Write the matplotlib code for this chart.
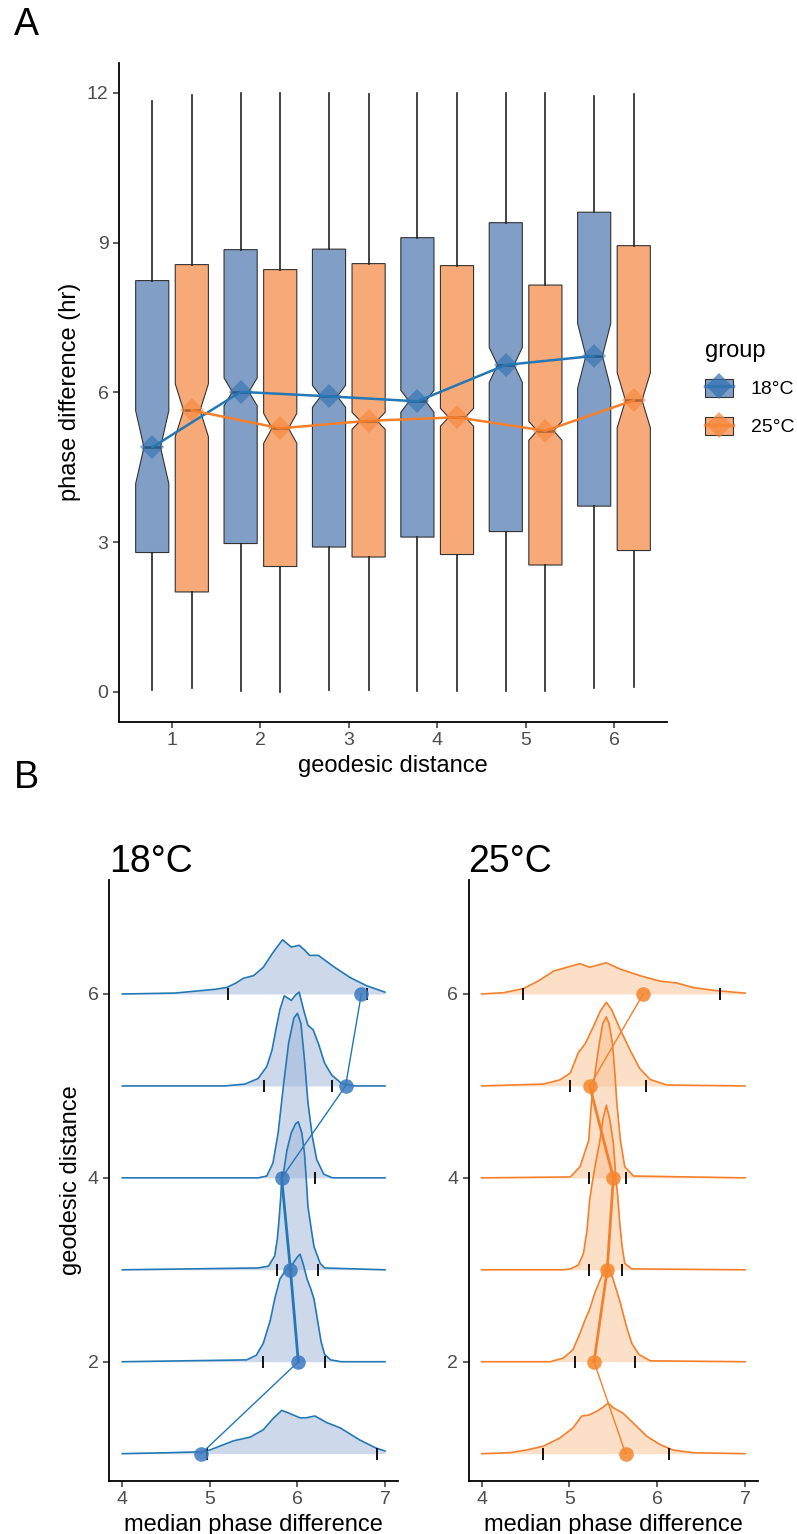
import matplotlib
matplotlib.use('Agg')
import matplotlib.pyplot as plt
from matplotlib.patches import Patch
from matplotlib.lines import Line2D
from matplotlib.legend_handler import HandlerTuple

plt.rcParams['font.family'] = ['Liberation Sans', 'DejaVu Sans']

# geodesic distance levels and the two temperature groups
distances = [1, 2, 3, 4, 5, 6]
groups = ['18°C', '25°C']

# box statistics of phase difference (hr)
whislo_18 = [0.04, 0.02, 0.04, 0.02, 0.02, 0.08]
q1_18 = [2.79, 2.97, 2.90, 3.10, 3.21, 3.72]
med_18 = [4.90, 6.01, 5.92, 5.82, 6.55, 6.73]
q3_18 = [8.24, 8.86, 8.87, 9.10, 9.40, 9.61]
whishi_18 = [11.83, 12.0, 12.0, 12.0, 12.0, 11.94]
notch_18 = [0.73, 0.28, 0.22, 0.22, 0.35, 0.65]

whislo_25 = [0.08, 0.0, 0.04, 0.02, 0.02, 0.09]
q1_25 = [2.00, 2.51, 2.70, 2.75, 2.54, 2.83]
med_25 = [5.64, 5.28, 5.43, 5.50, 5.23, 5.84]
q3_25 = [8.56, 8.46, 8.58, 8.54, 8.15, 8.94]
whishi_25 = [11.96, 12.0, 11.98, 12.0, 12.0, 11.98]
notch_25 = [0.53, 0.30, 0.17, 0.18, 0.19, 0.55]

# interval of the median distribution (ticks on the ridges)
lo_18 = [4.97, 5.61, 5.77, 5.82, 5.62, 5.21]
hi_18 = [6.91, 6.32, 6.23, 6.20, 6.40, 6.79]
lo_25 = [4.70, 5.06, 5.22, 5.22, 5.01, 4.47]
hi_25 = [6.13, 5.75, 5.60, 5.64, 5.87, 6.72]

# ridge densities of the median phase difference, one list per distance
ridge_x_18 = [
    [4.0, 4.51, 4.89, 5.0, 5.27, 5.46, 5.61, 5.72, 5.82, 5.88, 6.03, 6.10, 6.20, 6.33, 6.49, 6.71, 6.90, 7.0],
    [4.0, 5.42, 5.53, 5.61, 5.69, 5.74, 5.80, 5.87, 5.95, 6.00, 6.03, 6.07, 6.11, 6.15, 6.19, 6.23, 6.27, 6.31, 6.38, 6.5, 7.0],
    [4.0, 5.55, 5.67, 5.74, 5.77, 5.79, 5.81, 5.82, 5.84, 5.88, 5.93, 5.98, 6.01, 6.05, 6.08, 6.10, 6.12, 6.16, 6.19, 6.26, 6.31, 7.0],
    [4.0, 5.55, 5.65, 5.72, 5.78, 5.84, 5.90, 5.96, 6.00, 6.04, 6.08, 6.12, 6.17, 6.22, 6.30, 6.40, 7.0],
    [4.0, 5.17, 5.40, 5.55, 5.65, 5.71, 5.76, 5.80, 5.85, 5.90, 5.93, 5.98, 6.02, 6.07, 6.12, 6.18, 6.24, 6.31, 6.39, 6.50, 6.66, 7.0],
    [4.0, 4.6, 4.89, 5.05, 5.19, 5.30, 5.38, 5.50, 5.61, 5.72, 5.83, 5.88, 5.93, 6.02, 6.08, 6.14, 6.24, 6.41, 6.60, 6.79, 7.0],
]
ridge_h_18 = [
    [0.0, 0.01, 0.02, 0.04, 0.14, 0.18, 0.26, 0.38, 0.47, 0.45, 0.39, 0.39, 0.41, 0.34, 0.28, 0.15, 0.06, 0.03],
    [0.0, 0.02, 0.07, 0.20, 0.45, 0.68, 0.90, 1.00, 1.07, 1.14, 1.17, 1.05, 0.90, 0.80, 0.68, 0.45, 0.22, 0.08, 0.02, 0.0, 0.0],
    [0.0, 0.02, 0.04, 0.15, 0.33, 0.54, 0.80, 0.98, 1.05, 1.30, 1.49, 1.59, 1.61, 1.49, 1.27, 1.0, 0.69, 0.43, 0.25, 0.07, 0.02, 0.0],
    [0.0, 0.0, 0.02, 0.16, 0.49, 1.0, 1.47, 1.74, 1.79, 1.68, 1.29, 0.82, 0.45, 0.20, 0.04, 0.0, 0.0],
    [0.0, 0.0, 0.02, 0.08, 0.21, 0.39, 0.64, 0.83, 0.98, 0.95, 0.93, 0.99, 1.02, 0.83, 0.66, 0.61, 0.46, 0.25, 0.12, 0.03, 0.0, 0.0],
    [0.0, 0.01, 0.036, 0.05, 0.07, 0.12, 0.17, 0.20, 0.29, 0.45, 0.59, 0.55, 0.51, 0.53, 0.48, 0.42, 0.42, 0.30, 0.18, 0.09, 0.02],
]
ridge_x_25 = [
    [4.0, 4.32, 4.51, 4.70, 4.89, 5.04, 5.14, 5.22, 5.31, 5.39, 5.44, 5.50, 5.61, 5.73, 5.88, 6.03, 6.18, 6.41, 7.0],
    [4.0, 4.78, 4.93, 5.04, 5.12, 5.18, 5.23, 5.29, 5.35, 5.40, 5.43, 5.47, 5.50, 5.58, 5.65, 5.71, 5.79, 5.92, 7.0],
    [4.0, 4.93, 5.01, 5.10, 5.16, 5.20, 5.23, 5.26, 5.30, 5.35, 5.38, 5.42, 5.46, 5.50, 5.53, 5.55, 5.57, 5.60, 5.63, 5.71, 7.0],
    [4.0, 5.01, 5.12, 5.22, 5.25, 5.30, 5.34, 5.38, 5.42, 5.45, 5.49, 5.52, 5.54, 5.58, 5.63, 5.73, 7.0],
    [4.0, 4.70, 4.89, 5.01, 5.10, 5.18, 5.27, 5.35, 5.42, 5.48, 5.58, 5.69, 5.80, 5.92, 6.11, 7.0],
    [4.0, 4.25, 4.48, 4.66, 4.82, 4.97, 5.12, 5.23, 5.42, 5.58, 5.80, 6.03, 6.22, 6.41, 6.64, 6.87, 7.0],
]
ridge_h_25 = [
    [0.0, 0.01, 0.04, 0.08, 0.17, 0.28, 0.41, 0.42, 0.46, 0.51, 0.55, 0.50, 0.44, 0.33, 0.19, 0.10, 0.04, 0.01, 0.0],
    [0.0, 0.0, 0.04, 0.13, 0.31, 0.46, 0.57, 0.75, 0.89, 1.0, 1.03, 0.97, 0.89, 0.64, 0.38, 0.20, 0.08, 0.01, 0.0],
    [0.0, 0.0, 0.01, 0.05, 0.18, 0.43, 0.76, 0.95, 1.17, 1.42, 1.63, 1.79, 1.63, 1.38, 0.98, 0.80, 0.54, 0.25, 0.07, 0.01, 0.0],
    [0.0, 0.01, 0.12, 0.41, 0.81, 1.2, 1.46, 1.68, 1.75, 1.68, 1.46, 1.1, 0.81, 0.41, 0.12, 0.02, 0.0],
    [0.0, 0.02, 0.065, 0.14, 0.36, 0.46, 0.64, 0.81, 0.91, 0.83, 0.61, 0.39, 0.19, 0.07, 0.01, 0.0],
    [0.0, 0.014, 0.06, 0.15, 0.25, 0.29, 0.33, 0.29, 0.34, 0.27, 0.20, 0.14, 0.12, 0.07, 0.04, 0.02, 0.01],
]

# colours
box_fill = ['#819fc6', '#f7aa78']
line_col = ['#2378b5', '#f57f2a']
diamond_col = ['#2f6fb0', '#f7863a']
ridge_fill = ['#9db5d9', '#fbc190']
dot_col = ['#3a79c0', '#f5862c']
# width of the dot-connecting segments in panel B
seg_w = [[1.0, 2.0, 2.0, 1.0, 1.0], [1.0, 2.0, 2.0, 2.0, 1.0]]

W, H = 797, 1534
fig = plt.figure(figsize=(W / 100, H / 100), dpi=100)


def style_axes(ax):
    for s in ['top', 'right']:
        ax.spines[s].set_visible(False)
    for s in ['left', 'bottom']:
        ax.spines[s].set_linewidth(1.3)
        ax.spines[s].set_color('black')
    ax.tick_params(length=4, width=1.1, color='#333333', labelcolor='#4d4d4d', labelsize=14)


# ---------- panel A: notched boxplots ----------
axA = fig.add_axes([119 / W, 1 - 721.7 / H, 548 / W, (721.7 - 63) / H])
offsets = [-0.224, 0.224]
box_data = [
    (whislo_18, q1_18, med_18, q3_18, whishi_18, notch_18),
    (whislo_25, q1_25, med_25, q3_25, whishi_25, notch_25),
]
for g, (wl, q1, md, q3, wh, nh) in enumerate(box_data):
    stats = []
    for i in range(len(distances)):
        stats.append(dict(whislo=wl[i], q1=q1[i], med=md[i], q3=q3[i], whishi=wh[i],
                          cilo=md[i] - nh[i], cihi=md[i] + nh[i], fliers=[]))
    pos = [d + offsets[g] for d in distances]
    axA.bxp(stats, positions=pos, widths=0.375, shownotches=True, patch_artist=True,
            showcaps=False, showfliers=False, manage_ticks=False,
            boxprops=dict(facecolor=box_fill[g], edgecolor='#333333', linewidth=0.8),
            whiskerprops=dict(color='#222222', linewidth=1.2),
            medianprops=dict(color='#333333', linewidth=1.8))
    axA.plot(pos, md, ls='none', marker='D', ms=12.5, color=diamond_col[g], alpha=0.6, mew=0, zorder=4)
    axA.plot(pos, md, color=line_col[g], lw=1.8, zorder=5)

axA.set_xlim(0.4, 6.6)
axA.set_ylim(-0.6, 12.6)
axA.set_xticks(distances)
axA.set_yticks([0, 3, 6, 9, 12])
axA.set_xlabel('geodesic distance', fontsize=17)
axA.set_ylabel('phase difference (hr)', fontsize=17)
style_axes(axA)

# legend: box key with the diamond and line drawn over it
handles = []
for g in range(2):
    handles.append((Patch(facecolor=box_fill[g], edgecolor='#333333', linewidth=0.8),
                    Line2D([], [], color=line_col[g], lw=2.5, marker='D', ms=13, alpha=0.7,
                           markerfacecolor=diamond_col[g], mew=0)))
leg = fig.legend(handles, groups, title='group', loc='upper left',
                 bbox_to_anchor=(705 / W, 1 - 340 / H), frameon=False, fontsize=14,
                 title_fontsize=17, handlelength=1.45, handleheight=1.05, labelspacing=0.95,
                 handletextpad=0.9, borderpad=0, borderaxespad=0,
                 handler_map={tuple: HandlerTuple(ndivide=1)}, alignment='left')
leg._legend_box.sep = 12

fig.text(14 / W, 1 - 25 / H, 'A', fontsize=27, va='center', ha='left')
fig.text(14 / W, 1 - 778 / H, 'B', fontsize=27, va='center', ha='left')

# ---------- panel B: ridgelines of the median ----------
ridge_data = [
    (ridge_x_18, ridge_h_18, lo_18, hi_18, med_18),
    (ridge_x_25, ridge_h_25, lo_25, hi_25, med_25),
]
lefts = [109.2, 468.5]
widths = [288.9, 289.7]
for g, (rx, rh, lo, hi, md) in enumerate(ridge_data):
    ax = fig.add_axes([lefts[g] / W, 1 - 1480.7 / H, widths[g] / W, (1480.7 - 880) / H])
    # top rows first so lower ridges overlap them
    for k in reversed(range(len(distances))):
        base = distances[k]
        ys = [base + h for h in rh[k]]
        ax.fill_between(rx[k], base, ys, color=ridge_fill[g], alpha=0.5, lw=0)
        ax.plot(rx[k], ys, color=line_col[g], lw=1.2)
        ax.plot([lo[k], hi[k]], [base, base], ls='none', marker='|', ms=9, mew=1.3, color='black')
    for i in range(len(distances) - 1):
        ax.plot(md[i:i + 2], distances[i:i + 2], color=line_col[g], lw=seg_w[g][i], zorder=5)
    ax.plot(md, distances, ls='none', marker='o', ms=10.5, color=dot_col[g], alpha=0.85, mew=0, zorder=6)

    ax.set_xlim(3.85, 7.15)
    ax.set_ylim(0.706, 7.24)
    ax.set_xticks([4, 5, 6, 7])
    ax.set_yticks([2, 4, 6])
    ax.set_xlabel('median phase difference', fontsize=17)
    if g == 0:
        ax.set_ylabel('geodesic distance', fontsize=17)
    ax.set_title(groups[g], loc='left', fontsize=27, pad=6)
    style_axes(ax)

fig.savefig('out.png', dpi=100)
